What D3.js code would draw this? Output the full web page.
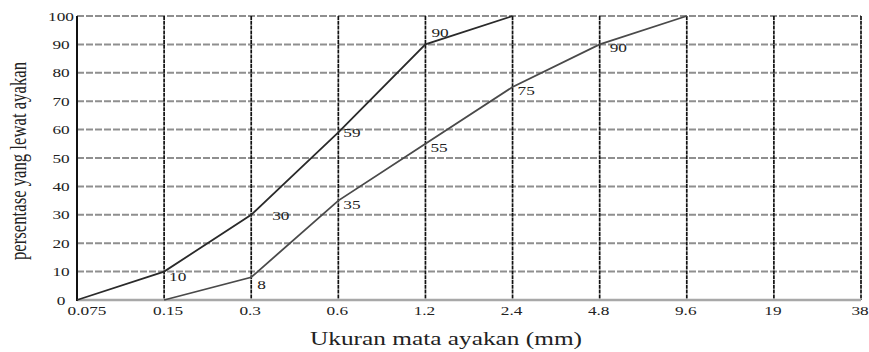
<!DOCTYPE html>
<html>
<head>
<meta charset="utf-8">
<script src="https://cdn.jsdelivr.net/npm/d3@7"></script>
<style>
  html, body { margin: 0; padding: 0; background: #fff; }
  svg { display: block; }
  text { font-family: "Liberation Serif", "Times New Roman", serif; fill: #222; }
</style>
</head>
<body>
<svg id="chart" width="869" height="352"></svg>
<script>
// Sieve sizes (mm) along the x axis
const sieveSizes = ["0.075", "0.15", "0.3", "0.6", "1.2", "2.4", "4.8", "9.6", "19", "38"];
// Y-axis ticks (% passing)
const yTicks = [0, 10, 20, 30, 40, 50, 60, 70, 80, 90, 100];

// Upper grading limit
const upperSizes  = ["0.075", "0.15", "0.3", "0.6", "1.2", "2.4"];
const upperValues = [0, 10, 30, 59, 90, 100];
// Lower grading limit
const lowerSizes  = ["0.15", "0.3", "0.6", "1.2", "2.4", "4.8", "9.6"];
const lowerValues = [0, 8, 35, 55, 75, 90, 100];

// Which points carry a value label
const upperLabelled = ["0.15", "0.3", "0.6", "1.2"];
const lowerLabelled = ["0.3", "0.6", "1.2", "2.4", "4.8"];

const svg = d3.select("#chart");
const plotLeft = 77, plotRight = 861, plotTop = 16, plotBottom = 300;
const SX = 1.38; // horizontal stretch of the typeface

const x = d3.scalePoint().domain(sieveSizes).range([plotLeft, plotRight]);
const y = d3.scaleLinear().domain([0, 100]).range([plotBottom, plotTop]);

// Horizontal grid lines
svg.append("g")
  .selectAll("line")
  .data(yTicks.filter(v => v > 0))
  .join("line")
  .attr("x1", plotLeft).attr("x2", plotRight)
  .attr("y1", d => y(d)).attr("y2", d => y(d))
  .attr("stroke", "#8f8f8f")
  .attr("stroke-width", 2)
  .attr("stroke-dasharray", "7,2");

// Vertical grid lines at each sieve
svg.append("g")
  .selectAll("line")
  .data(sieveSizes.slice(1))
  .join("line")
  .attr("x1", d => x(d)).attr("x2", d => x(d))
  .attr("y1", plotTop).attr("y2", plotBottom)
  .attr("stroke", "#111")
  .attr("stroke-width", 1.7)
  .attr("stroke-dasharray", "4,0.8");

// Base line at 0 %
svg.append("line")
  .attr("x1", plotLeft).attr("x2", plotRight)
  .attr("y1", y(0)).attr("y2", y(0))
  .attr("stroke", "#a8a8a8").attr("stroke-width", 2.5);

// Left axis line
svg.append("line")
  .attr("x1", plotLeft).attr("x2", plotLeft)
  .attr("y1", plotTop).attr("y2", plotBottom + 1)
  .attr("stroke", "#111").attr("stroke-width", 2);

// Stretched text helper
function label(g, tx, ty, str, size, anchor) {
  g.append("text")
    .attr("transform", `translate(${tx},${ty}) scale(${SX},1)`)
    .attr("text-anchor", anchor || "middle")
    .attr("font-size", size)
    .text(str);
}

// Y tick labels
const yAxisG = svg.append("g");
yTicks.forEach(v => label(yAxisG, 61, y(v) + 4.5, v, 12.5, "middle"));

// X tick labels
const xAxisG = svg.append("g");
sieveSizes.forEach((s, i) => label(xAxisG, x(s) + (i === 0 ? 10 : (i === 1 ? 4 : -1)), 315, s, 12.5, "middle"));

// Axis titles
svg.append("text")
  .attr("x", 310).attr("y", 345)
  .attr("font-size", 19)
  .attr("textLength", 272)
  .attr("lengthAdjust", "spacingAndGlyphs")
  .text("Ukuran mata ayakan (mm)");

svg.append("text")
  .attr("transform", "translate(26,161) rotate(-90) scale(1,1.4)")
  .attr("text-anchor", "middle")
  .attr("font-size", 16)
  .attr("textLength", 198)
  .attr("lengthAdjust", "spacingAndGlyphs")
  .text("persentase yang lewat ayakan");

// Curves
const line = d3.line().x(d => x(d[0])).y(d => y(d[1]));
const upper = upperSizes.map((s, i) => [s, upperValues[i]]);
const lower = lowerSizes.map((s, i) => [s, lowerValues[i]]);

svg.append("path").datum(lower)
  .attr("d", line).attr("fill", "none")
  .attr("stroke", "#4a4a4a").attr("stroke-width", 1.8);
svg.append("path").datum(upper)
  .attr("d", line).attr("fill", "none")
  .attr("stroke", "#2a2a2a").attr("stroke-width", 1.8);

// Value labels beside the points
const labelG = svg.append("g");
upper.filter(d => upperLabelled.includes(d[0])).forEach(d => {
  const v = d[1];
  const dx = v === 30 ? 21 : (v === 90 ? 6 : 5);
  const dy = v === 90 ? -7 : (v === 10 ? 9 : 5);
  label(labelG, x(d[0]) + dx, y(v) + dy, v, 12.5, "start");
});
lower.filter(d => lowerLabelled.includes(d[0])).forEach(d => {
  const v = d[1];
  const dx = v === 90 ? 10 : (v === 8 ? 6 : 5);
  const dy = v === 8 ? 12 : 8;
  label(labelG, x(d[0]) + dx, y(v) + dy, v, 12.5, "start");
});
</script>
</body>
</html>
